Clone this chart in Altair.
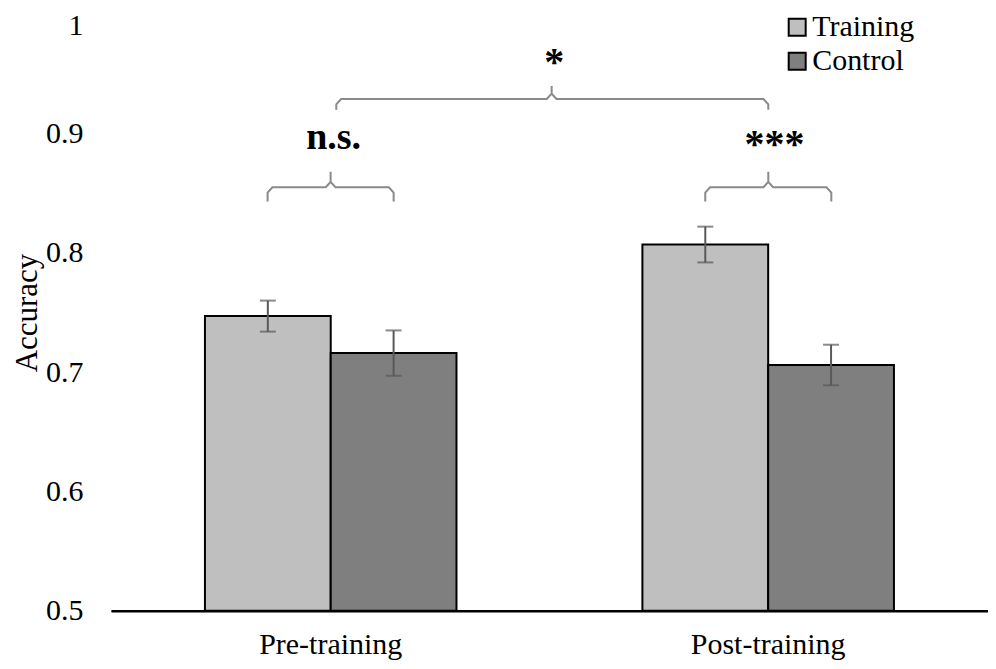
import altair as alt
import pandas as pd

FONT = "Liberation Serif"

# ---- data ----
phases = ["Pre-training", "Post-training"]
groups = ["Training", "Control"]
training_mean = [0.747, 0.807]
control_mean = [0.716, 0.706]
training_err = [0.013, 0.015]
control_err = [0.019, 0.017]
colors = ["#bfbfbf", "#7f7f7f"]

# significance brackets: x in phase units (Pre-training = 0, Post-training = 1)
bracket_left = [-0.144, 0.013, 0.856]
bracket_mid = [0.0, 0.505, 1.0]
bracket_right = [0.144, 1.0, 1.144]
bracket_leg = [0.843, 0.920, 0.843]
bracket_line = [0.855, 0.929, 0.855]
bracket_tip = [0.868, 0.940, 0.868]

sig_text = ["n.s.", "*", "***"]
sig_x = [0.007, 0.511, 1.014]
sig_y = [0.887, 0.9495, 0.8803]
sig_size = [38, 40, 40]

# ---- tables ----
rows = []
for g, m, e in [("Training", training_mean, training_err), ("Control", control_mean, control_err)]:
    for i, p in enumerate(phases):
        rows.append({"phase": p, "group": g, "acc": m[i], "lo": m[i] - e[i], "hi": m[i] + e[i]})
df = pd.DataFrame(rows)

rx, ry = 0.011, 0.0045
brows = []
for b in range(len(bracket_left)):
    L, C, R = bracket_left[b], bracket_mid[b], bracket_right[b]
    lg, ln, tp = bracket_leg[b], bracket_line[b], bracket_tip[b]
    pts = [(L, lg), (L, ln - ry), (L + rx, ln), (C - rx, ln), (C, ln + ry), (C, tp),
           (C, ln + ry), (C + rx, ln), (R - rx, ln), (R, ln - ry), (R, lg)]
    for k, (x, y) in enumerate(pts):
        brows.append({"b": b, "k": k, "u": x, "v": y})
bdf = pd.DataFrame(brows)
tdf = pd.DataFrame({"u": sig_x, "v": sig_y, "t": sig_text, "s": sig_size})

yscale = alt.Scale(domain=[0.5, 1.0], nice=False, zero=False)
xband = alt.X("phase:N", sort=phases,
              scale=alt.Scale(domain=phases, paddingInner=0.425, paddingOuter=0.215),
              axis=alt.Axis(title=None, labelAngle=0, labelFont=FONT, labelFontSize=30,
                            labelColor="black", domainColor="black", domainWidth=2.5,
                            ticks=False, tickSize=0, labelPadding=19, grid=False, zindex=1))
xoff = alt.XOffset("group:N", sort=groups,
                   scale=alt.Scale(domain=groups, paddingInner=0, paddingOuter=0))

base = alt.Chart(df)
bars = base.mark_bar(stroke="black", strokeWidth=2).encode(
    x=xband, xOffset=xoff,
    y=alt.Y("acc:Q", scale=yscale,
            axis=alt.Axis(title="Accuracy", values=[0.5, 0.6, 0.7, 0.8, 0.9, 1.0], format=".1~f",
                          labelFont=FONT, labelFontSize=30, labelColor="black",
                          labelOffset={"condition": {"test": "datum.value == 1", "value": 11}, "value": 0},
                          titleFont=FONT, titleFontSize=31, titleFontWeight="normal",
                          titleColor="black", titlePadding=2,
                          domain=False, ticks=False, tickSize=0, labelPadding=28, grid=False)),
    y2=alt.datum(0.5),
    color=alt.Color("group:N", sort=groups,
                    scale=alt.Scale(domain=groups, range=colors),
                    legend=alt.Legend(orient="none", legendX=672, legendY=-2, title=None,
                                      symbolType="square", symbolSize=289,
                                      symbolStrokeColor="black", symbolStrokeWidth=2,
                                      symbolOpacity=1,
                                      labelFont=FONT, labelFontSize=30, labelColor="black",
                                      labelOffset=0, rowPadding=4, padding=0)),
)
err = base.mark_rule(color="#595959", strokeWidth=2).encode(
    x=alt.X("phase:N", sort=phases), xOffset=alt.XOffset("group:N", sort=groups),
    y="lo:Q", y2="hi:Q")
cap_lo = base.mark_tick(color="#595959", thickness=2, size=16, orient="horizontal").encode(
    x=alt.X("phase:N", sort=phases), xOffset=alt.XOffset("group:N", sort=groups), y="lo:Q")
cap_hi = base.mark_tick(color="#595959", thickness=2, size=16, orient="horizontal").encode(
    x=alt.X("phase:N", sort=phases), xOffset=alt.XOffset("group:N", sort=groups), y="hi:Q")

band_layer = alt.layer(bars, err, cap_lo, cap_hi)

uscale = alt.Scale(domain=[-0.502, 1.502], nice=False, zero=False)
brackets = alt.Chart(bdf).mark_line(color="#8a8a8a", strokeWidth=2).encode(
    x=alt.X("u:Q", scale=uscale, axis=None),
    y=alt.Y("v:Q", scale=yscale),
    detail="b:N", order="k:Q")
texts = alt.Chart(tdf).mark_text(font=FONT, fontWeight="bold", color="black",
                                 baseline="alphabetic", align="center").encode(
    x=alt.X("u:Q", scale=uscale, axis=None),
    y=alt.Y("v:Q", scale=yscale),
    size=alt.Size("s:Q", scale=None, legend=None),
    text="t:N")
ann_layer = alt.layer(brackets, texts)

chart = alt.layer(band_layer, ann_layer).resolve_scale(x="independent").properties(
    width=878, height=597,
    autosize=alt.AutoSizeParams(type="none"),
    padding={"left": 103, "top": 6, "right": 0, "bottom": 50},
).configure_view(stroke=None)

chart.save("out.html", embed_options={"renderer": "svg", "actions": False})
